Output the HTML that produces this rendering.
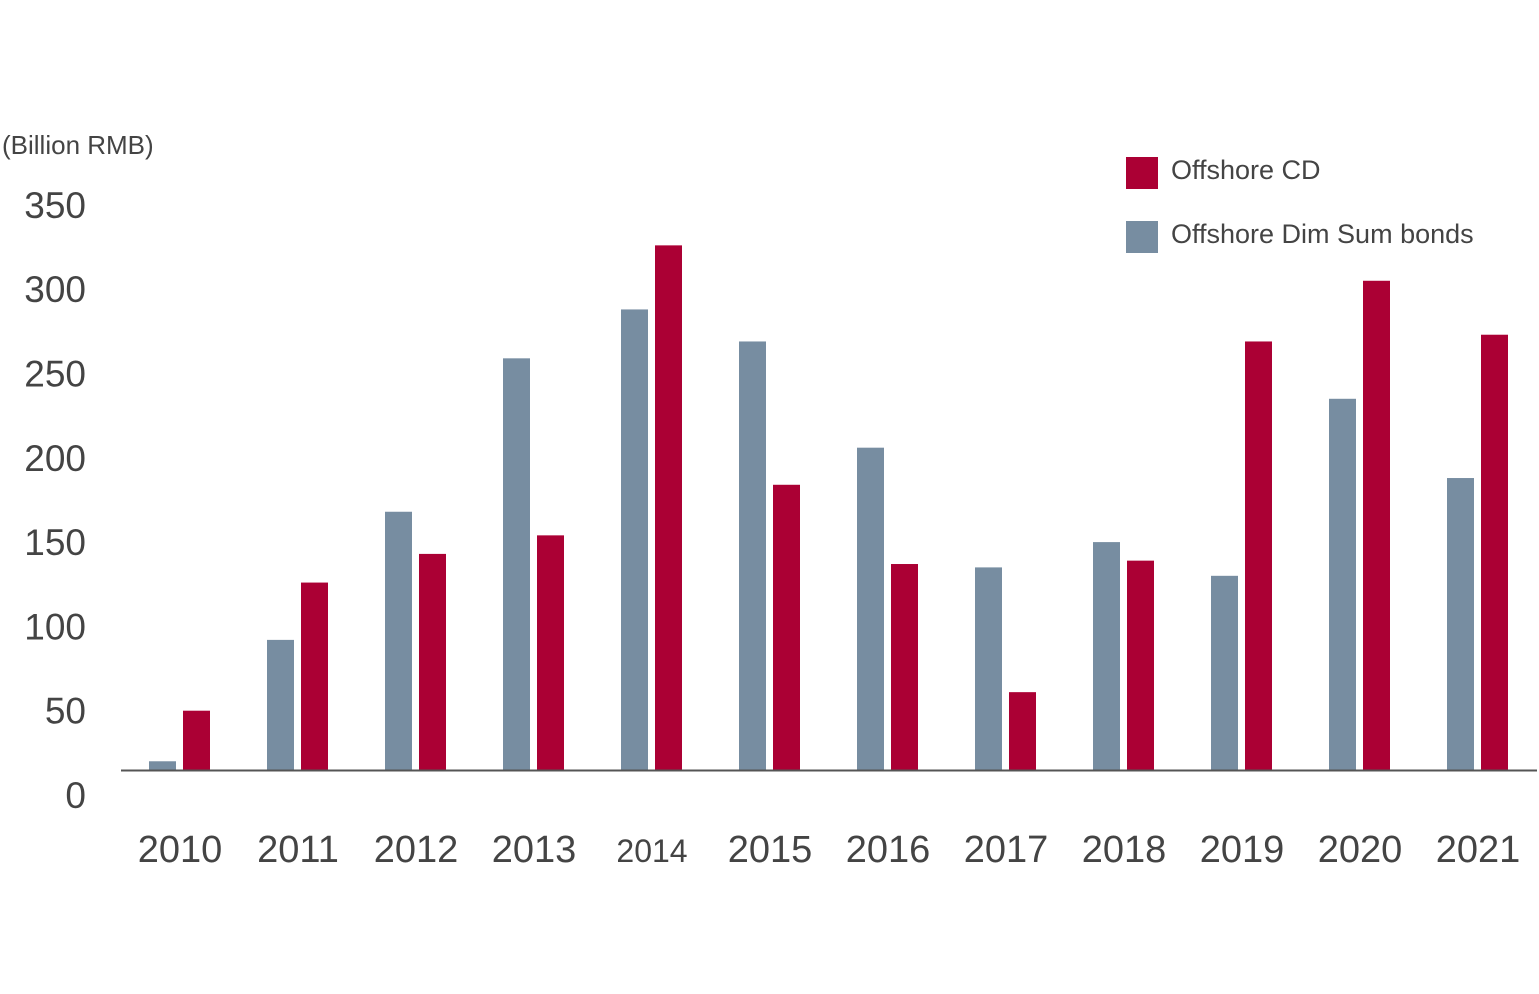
<!DOCTYPE html>
<html><head><meta charset="utf-8"><style>
html,body{margin:0;padding:0;background:#fff;}
svg{display:block;}
text{font-family:"Liberation Sans",sans-serif;}
</style></head><body>
<svg id="chart" width="1539" height="994" viewBox="0 0 1539 994">
<text x="2" y="154" font-size="26" fill="#444">(Billion RMB)</text>
<g id="yticks"></g>
<g id="bars"></g>
<line x1="121" y1="770.5" x2="1537" y2="770.5" stroke="#555" stroke-width="2"/>
<g id="xlabels"></g>
<g>
<rect x="1126" y="157" width="32" height="32" fill="#ab0034"/>
<text x="1171" y="179" font-size="27" fill="#444">Offshore CD</text>
<rect x="1126" y="221" width="32" height="32" fill="#778da1"/>
<text x="1171" y="243" font-size="27" fill="#444">Offshore Dim Sum bonds</text>
</g>
</svg>
<script>
const categories=["2010","2011","2012","2013","2014","2015","2016","2017","2018","2019","2020","2021"];
const dimSum=[20,92,168,259,288,269,206,135,150,130,235,188];
const offshoreCD=[50,126,143,154,326,184,137,61,139,269,305,273];
const yTicks=[0,50,100,150,200,250,300,350];
const NS="http://www.w3.org/2000/svg";
function y(v){return 795-1.686*v;}
function xc(i){return 180+118*i;}
const base=770;
const yg=document.getElementById('yticks');
yTicks.forEach(t=>{const e=document.createElementNS(NS,'text');
e.setAttribute('x',86);e.setAttribute('y',y(t)+13);e.setAttribute('text-anchor','end');
e.setAttribute('font-size','37');e.setAttribute('fill','#444');e.textContent=t;


yg.appendChild(e);});
const bg=document.getElementById('bars');
function bar(x,v,c,name){const r=document.createElementNS(NS,'rect');
const top=Math.min(y(v),base);
r.setAttribute('x',x);r.setAttribute('y',top);r.setAttribute('width',27);r.setAttribute('height',base-top);r.setAttribute('fill',c);


bg.appendChild(r);}
const xg=document.getElementById('xlabels');
categories.forEach((c,i)=>{
bar(xc(i)-31,dimSum[i],'#778da1','bar-dimsum-'+c);
bar(xc(i)+3,offshoreCD[i],'#ab0034','bar-cd-'+c);
const t=document.createElementNS(NS,'text');
t.setAttribute('x',xc(i));t.setAttribute('y',862);t.setAttribute('text-anchor','middle');
t.setAttribute('font-size',c==='2014'?'32':'38');t.setAttribute('fill','#444');t.textContent=c;


xg.appendChild(t);});
</script>
</body></html>
